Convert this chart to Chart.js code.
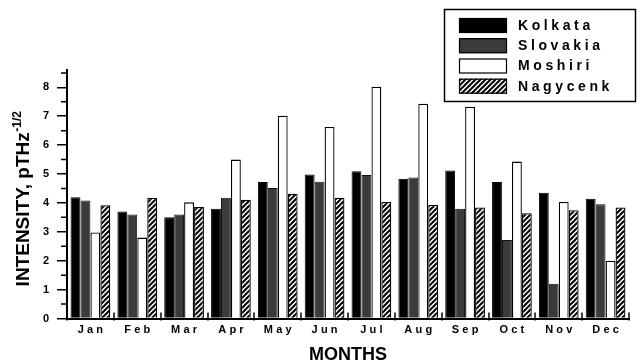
<!DOCTYPE html>
<html>
<head>
<meta charset="utf-8">
<script src="https://cdn.jsdelivr.net/npm/chart.js@4/dist/chart.umd.min.js"></script>
<style>
  html, body { margin: 0; padding: 0; background: #fff; }
  #wrap { width: 637px; height: 362px; }
</style>
</head>
<body>
<div id="wrap"><canvas id="c" width="637" height="362"></canvas></div>
<script>
// Monthly mean intensity at four stations
const months   = ['Jan', 'Feb', 'Mar', 'Apr', 'May', 'Jun', 'Jul', 'Aug', 'Sep', 'Oct', 'Nov', 'Dec'];
const kolkata  = [4.2, 3.7, 3.5, 3.8, 4.72, 4.98, 5.1, 4.84, 5.12, 4.72, 4.35, 4.14];
const slovakia = [4.08, 3.6, 3.6, 4.18, 4.52, 4.73, 4.97, 4.88, 3.8, 2.72, 1.2, 3.95];
const moshiri  = [2.98, 2.8, 4.02, 5.5, 7.02, 6.63, 8.02, 7.43, 7.33, 5.43, 4.03, 2.0];
const nagycenk = [3.92, 4.17, 3.86, 4.11, 4.32, 4.18, 4.03, 3.93, 3.84, 3.64, 3.75, 3.84];
const seriesNames = ['Kolkata', 'Slovakia', 'Moshiri', 'Nagycenk'];
const yMax = 8.6;

const FONT = "'Liberation Sans', Arial, Helvetica, sans-serif";

// Diagonal hatch fill for the Nagycenk bars
function makeHatch() {
  const s = 5;
  const c = document.createElement('canvas');
  c.width = s; c.height = s;
  const g = c.getContext('2d');
  g.fillStyle = '#fff';
  g.fillRect(0, 0, s, s);
  g.strokeStyle = '#000';
  g.lineWidth = 2;
  g.beginPath();
  g.moveTo(-1, s + 1); g.lineTo(s + 1, -1);
  g.moveTo(-1, 1); g.lineTo(1, -1);
  g.moveTo(s - 1, s + 1); g.lineTo(s + 1, s - 1);
  g.stroke();
  return g.createPattern(c, 'repeat');
}
const hatch = makeHatch();

// Draws text one character at a time with extra tracking
function spacedWidth(ctx, text, spacing) {
  let w = 0;
  for (const ch of text) w += ctx.measureText(ch).width;
  return w + spacing * (text.length - 1);
}
function drawSpaced(ctx, text, x, y, spacing, align) {
  const w = spacedWidth(ctx, text, spacing);
  let cx = align === 'center' ? x - w / 2 : x;
  ctx.textAlign = 'left';
  for (const ch of text) {
    ctx.fillText(ch, cx, y);
    cx += ctx.measureText(ch).width + spacing;
  }
}

const decorations = {
  id: 'decorations',
  afterDraw(chart) {
    const ctx = chart.ctx;
    const xs = chart.scales.x;
    const ys = chart.scales.y;
    ctx.save();
    ctx.strokeStyle = '#000';
    ctx.fillStyle = '#000';

    // category boundary ticks on the x axis
    ctx.lineWidth = 1.5;
    ctx.beginPath();
    for (let i = 0; i <= months.length; i++) {
      const px = Math.round(xs.getPixelForValue(i - 0.5));
      ctx.moveTo(px, ys.bottom - 6);
      ctx.lineTo(px, ys.bottom + 2);
    }
    ctx.stroke();

    // half-unit minor ticks on the y axis
    ctx.beginPath();
    for (let v = 0.5; v < yMax; v += 1) {
      const py = ys.getPixelForValue(v);
      ctx.moveTo(ys.right - 6, py);
      ctx.lineTo(ys.right, py);
    }
    ctx.stroke();

    // month labels
    ctx.font = 'bold 11px ' + FONT;
    ctx.textBaseline = 'alphabetic';
    months.forEach((m, i) => {
      drawSpaced(ctx, m, xs.getPixelForValue(i), ys.bottom + 14.5, 3.2, 'center');
    });

    // x axis title
    ctx.font = 'bold 18px ' + FONT;
    ctx.textAlign = 'center';
    ctx.fillText('MONTHS', (xs.left + xs.right) / 2, 360);

    // y axis title with superscript exponent
    ctx.save();
    ctx.translate(29, 199);
    ctx.rotate(-Math.PI / 2);
    const main = 'INTENSITY, pTHz';
    const sup = '-1/2';
    ctx.font = 'bold 19px ' + FONT;
    const wMain = ctx.measureText(main).width;
    ctx.font = 'bold 12px ' + FONT;
    const wSup = ctx.measureText(sup).width;
    const x0 = -(wMain + wSup) / 2;
    ctx.textAlign = 'left';
    ctx.font = 'bold 19px ' + FONT;
    ctx.fillText(main, x0, 0);
    ctx.font = 'bold 12px ' + FONT;
    ctx.fillText(sup, x0 + wMain + 0.5, -8.5);
    ctx.restore();

    // legend box
    ctx.lineWidth = 1.5;
    ctx.strokeRect(444.5, 9.5, 191, 92);
    const rowY = [25.5, 45.7, 66, 86.2];
    chart.data.datasets.forEach((ds, i) => {
      const top = rowY[i] - 7.5;
      ctx.fillStyle = ds.backgroundColor;
      ctx.fillRect(459, top, 48, 15);
      ctx.lineWidth = 1.2;
      ctx.strokeStyle = '#000';
      ctx.strokeRect(459.5, top + 0.5, 47, 14);
      ctx.fillStyle = '#000';
      ctx.font = 'bold 14px ' + FONT;
      ctx.textBaseline = 'middle';
      drawSpaced(ctx, ds.label, 518, rowY[i] + 0.5, 3.6, 'left');
    });
    ctx.restore();
  }
};

new Chart(document.getElementById('c'), {
  type: 'bar',
  data: {
    labels: months,
    datasets: [
      { label: seriesNames[0], data: kolkata,  backgroundColor: '#000000', borderColor: '#000', borderWidth: 1 },
      { label: seriesNames[1], data: slovakia, backgroundColor: '#3b3b3b', borderColor: '#111', borderWidth: 1 },
      { label: seriesNames[2], data: moshiri,  backgroundColor: '#ffffff', borderColor: '#000', borderWidth: 1.3 },
      { label: seriesNames[3], data: nagycenk, backgroundColor: hatch,     borderColor: '#000', borderWidth: 1.3 }
    ]
  },
  options: {
    responsive: false,
    animation: false,
    events: [],
    devicePixelRatio: 1,
    layout: { padding: { top: 70, right: 8, left: 0, bottom: 0 } },
    datasets: { bar: { categoryPercentage: 0.85, barPercentage: 0.99, borderSkipped: 'bottom' } },
    plugins: { legend: { display: false }, tooltip: { enabled: false }, title: { display: false } },
    scales: {
      x: {
        offset: true,
        grid: { display: false },
        border: { display: true, color: '#000', width: 2 },
        ticks: { display: false },
        afterFit(scale) { scale.height = 43.5; }
      },
      y: {
        min: 0,
        max: yMax,
        grid: { drawOnChartArea: false, drawTicks: true, tickLength: 10, color: '#000', lineWidth: 1.5 },
        border: { display: true, color: '#000', width: 2 },
        ticks: {
          stepSize: 1,
          includeBounds: false,
          padding: 8,
          color: '#000',
          font: { family: FONT, size: 11, weight: 'bold' }
        },
        afterFit(scale) { scale.width = 67; }
      }
    }
  },
  plugins: [decorations]
});
</script>
</body>
</html>
